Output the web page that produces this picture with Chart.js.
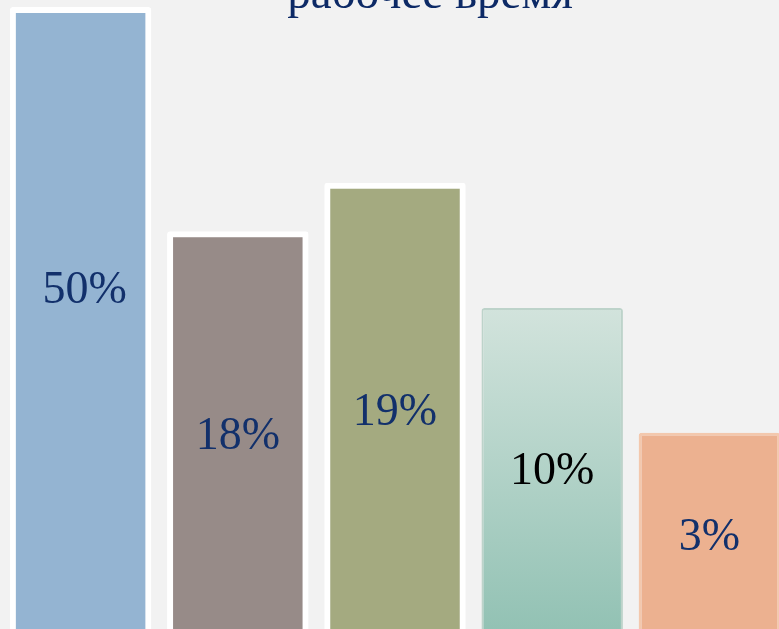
<!DOCTYPE html>
<html>
<head>
<meta charset="utf-8">
<script src="https://cdn.jsdelivr.net/npm/chart.js@4"></script>
<style>
  html, body { margin: 0; padding: 0; background: #f2f2f2; overflow: hidden; }
  #wrap { position: relative; width: 790px; height: 637px; }
</style>
</head>
<body>
<div id="wrap"><canvas id="chart" width="790" height="637"></canvas></div>
<script>
// data
const categories = ["A", "B", "C", "D", "E"]
const barHeights = [100, 64.4, 72.1, 52.2, 32.4]      // relative bar heights
const shareLabels = ["50%", "18%", "19%", "10%", "3%"]
const labelAt = [55, 31.7, 35.5, 26.2, 15.8]           // label height, same units as bars
const labelColors = ["#12306b", "#12306b", "#12306b", "#000000", "#12306b"]
const titleText = "рабочее время"

const ctx = document.getElementById("chart").getContext("2d")

// gradient for the fourth bar
const tealGrad = ctx.createLinearGradient(0, 308, 0, 637)
tealGrad.addColorStop(0, "#d2e3dc")
tealGrad.addColorStop(1, "#91c1b3")

const fills = ["#94b4d2", "#978b88", "#a4aa80", tealGrad, "#ecb190"]
const borders = ["#ffffff", "#ffffff", "#ffffff", "#bdd3ca", "#f3c8ad"]
const borderWidths = [6, 6, 6, 2, 3]

// draws the percentages inside the bars and the (cut) title
const labelPlugin = {
  id: "barLabels",
  afterDatasetsDraw(chart) {
    const c = chart.ctx
    const meta = chart.getDatasetMeta(0)
    const y = chart.scales.y
    c.save()
    c.textAlign = "center"
    c.textBaseline = "middle"
    c.font = "46px 'Liberation Serif', 'Times New Roman', serif"
    meta.data.forEach((bar, i) => {
      c.fillStyle = labelColors[i]
      c.fillText(shareLabels[i], bar.x + (i === 0 ? 4 : 0), y.getPixelForValue(labelAt[i]))
    })
    c.fillStyle = "#0d2a66"
    c.textBaseline = "alphabetic"
    c.font = "47px 'Liberation Serif', 'Times New Roman', serif"
    c.fillText(titleText, 430, 8)
    c.restore()
  },
}

new Chart(ctx, {
  type: "bar",
  data: {
    labels: categories,
    datasets: [
      {
        data: barHeights,
        backgroundColor: fills,
        borderColor: borders,
        borderWidth: borderWidths,
        borderRadius: 3,
        borderSkipped: "bottom",
        barPercentage: 0.9,
        categoryPercentage: 1,
      },
    ],
  },
  options: {
    responsive: false,
    animation: false,
    layout: { padding: { left: 2, right: 2, top: 0, bottom: 0 } },
    plugins: {
      legend: { display: false },
      tooltip: { enabled: false },
    },
    scales: {
      x: { display: false },
      y: { display: false, min: 0, max: 101.1 },
    },
  },
  plugins: [labelPlugin],
})
</script>
</body>
</html>
